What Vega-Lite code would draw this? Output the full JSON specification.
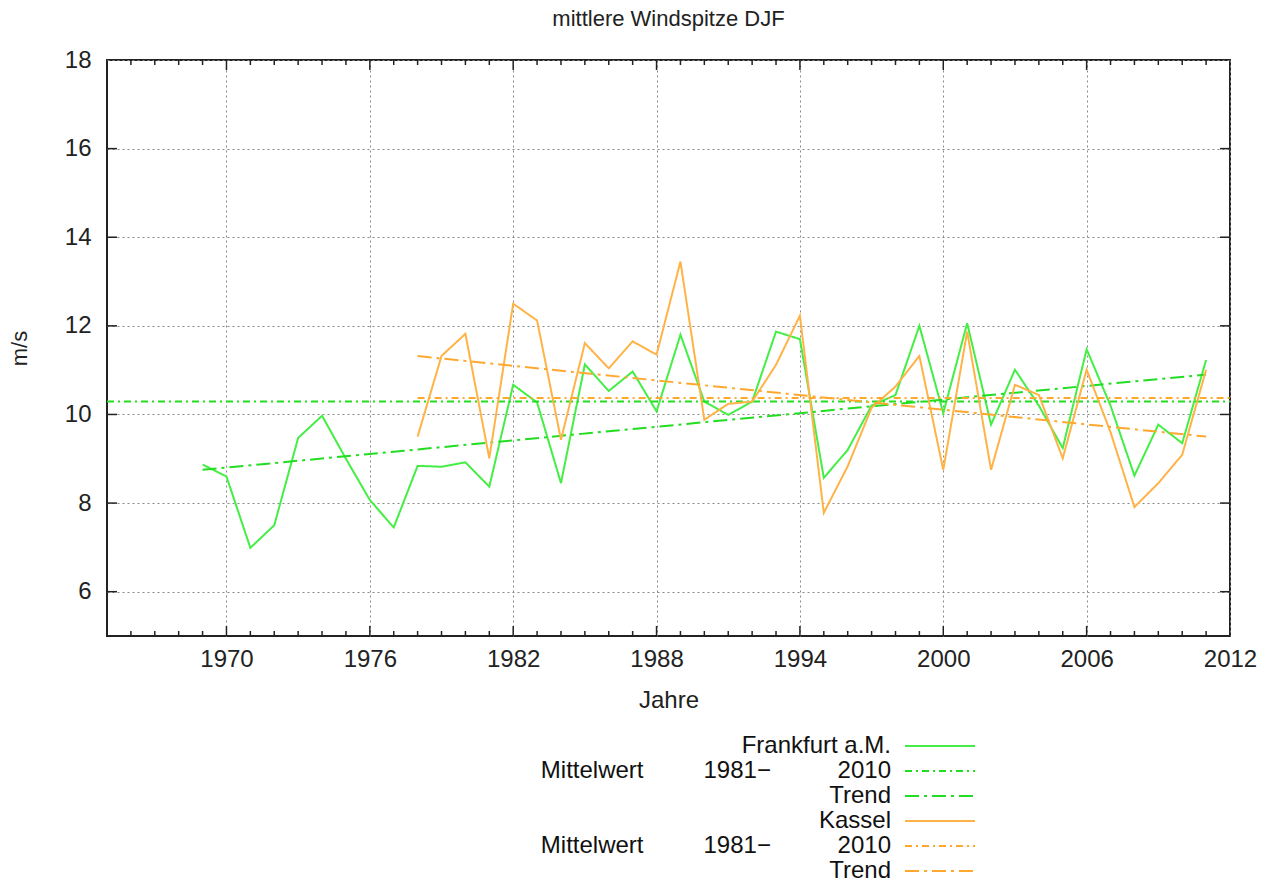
{
  "$schema": "https://vega.github.io/schema/vega-lite/v6.json",
  "autosize": "none",
  "padding": {"left": 107, "top": 60, "right": 39, "bottom": 246},
  "width": 1123,
  "height": 576,
  "background": "white",
  "title": {"text": "mittlere Windspitze DJF", "font": "Liberation Sans", "fontSize": 22, "fontWeight": "normal", "color": "#222", "anchor": "middle", "offset": 17},
  "config": {
    "view": {"stroke": "#222", "strokeWidth": 2},
    "font": "Liberation Sans",
    "legend": {
      "orient": "none", "legendX": 821, "legendY": 674, "direction": "vertical",
      "symbolType": "M-7,0H7", "symbolSize": 100, "symbolStrokeWidth": 2, "symbolFillColor": "transparent",
      "labelAlign": "right", "labelOffset": -61, "labelFontSize": 24, "labelFont": "Liberation Sans",
      "labelColor": "#111", "labelLimit": 600, "rowPadding": 1, "padding": 0
    }
  },
  "datasets": {
    "series": [
      {"series": "F", "year": 1969, "value": 8.87}, {"series": "F", "year": 1970, "value": 8.6}, {"series": "F", "year": 1971, "value": 6.99},
      {"series": "F", "year": 1972, "value": 7.5}, {"series": "F", "year": 1973, "value": 9.47}, {"series": "F", "year": 1974, "value": 9.97},
      {"series": "F", "year": 1975, "value": 9.0}, {"series": "F", "year": 1976, "value": 8.07}, {"series": "F", "year": 1977, "value": 7.45},
      {"series": "F", "year": 1978, "value": 8.84}, {"series": "F", "year": 1979, "value": 8.82}, {"series": "F", "year": 1980, "value": 8.92},
      {"series": "F", "year": 1981, "value": 8.37}, {"series": "F", "year": 1982, "value": 10.67}, {"series": "F", "year": 1983, "value": 10.27},
      {"series": "F", "year": 1984, "value": 8.45}, {"series": "F", "year": 1985, "value": 11.13}, {"series": "F", "year": 1986, "value": 10.53},
      {"series": "F", "year": 1987, "value": 10.97}, {"series": "F", "year": 1988, "value": 10.07}, {"series": "F", "year": 1989, "value": 11.8},
      {"series": "F", "year": 1990, "value": 10.29}, {"series": "F", "year": 1991, "value": 9.99}, {"series": "F", "year": 1992, "value": 10.29},
      {"series": "F", "year": 1993, "value": 11.87}, {"series": "F", "year": 1994, "value": 11.7}, {"series": "F", "year": 1995, "value": 8.57},
      {"series": "F", "year": 1996, "value": 9.2}, {"series": "F", "year": 1997, "value": 10.2}, {"series": "F", "year": 1998, "value": 10.44},
      {"series": "F", "year": 1999, "value": 12.0}, {"series": "F", "year": 2000, "value": 10.03}, {"series": "F", "year": 2001, "value": 12.06},
      {"series": "F", "year": 2002, "value": 9.77}, {"series": "F", "year": 2003, "value": 11.01}, {"series": "F", "year": 2004, "value": 10.2},
      {"series": "F", "year": 2005, "value": 9.24}, {"series": "F", "year": 2006, "value": 11.47}, {"series": "F", "year": 2007, "value": 10.2},
      {"series": "F", "year": 2008, "value": 8.62}, {"series": "F", "year": 2009, "value": 9.77}, {"series": "F", "year": 2010, "value": 9.35},
      {"series": "F", "year": 2011, "value": 11.23},
      {"series": "FM", "year": 1965, "value": 10.29}, {"series": "FM", "year": 2012, "value": 10.29},
      {"series": "FT", "year": 1969, "value": 8.75}, {"series": "FT", "year": 2011, "value": 10.9},
      {"series": "K", "year": 1978, "value": 9.5}, {"series": "K", "year": 1979, "value": 11.32}, {"series": "K", "year": 1980, "value": 11.82},
      {"series": "K", "year": 1981, "value": 9.01}, {"series": "K", "year": 1982, "value": 12.5}, {"series": "K", "year": 1983, "value": 12.12},
      {"series": "K", "year": 1984, "value": 9.43}, {"series": "K", "year": 1985, "value": 11.61}, {"series": "K", "year": 1986, "value": 11.04},
      {"series": "K", "year": 1987, "value": 11.65}, {"series": "K", "year": 1988, "value": 11.35}, {"series": "K", "year": 1989, "value": 13.45},
      {"series": "K", "year": 1990, "value": 9.88}, {"series": "K", "year": 1991, "value": 10.24}, {"series": "K", "year": 1992, "value": 10.29},
      {"series": "K", "year": 1993, "value": 11.12}, {"series": "K", "year": 1994, "value": 12.23}, {"series": "K", "year": 1995, "value": 7.78},
      {"series": "K", "year": 1996, "value": 8.83}, {"series": "K", "year": 1997, "value": 10.15}, {"series": "K", "year": 1998, "value": 10.63},
      {"series": "K", "year": 1999, "value": 11.32}, {"series": "K", "year": 2000, "value": 8.75}, {"series": "K", "year": 2001, "value": 11.87},
      {"series": "K", "year": 2002, "value": 8.75}, {"series": "K", "year": 2003, "value": 10.67}, {"series": "K", "year": 2004, "value": 10.44},
      {"series": "K", "year": 2005, "value": 9.01}, {"series": "K", "year": 2006, "value": 11.01}, {"series": "K", "year": 2007, "value": 9.6},
      {"series": "K", "year": 2008, "value": 7.91}, {"series": "K", "year": 2009, "value": 8.45}, {"series": "K", "year": 2010, "value": 9.09},
      {"series": "K", "year": 2011, "value": 11.01},
      {"series": "KM", "year": 1978, "value": 10.37}, {"series": "KM", "year": 2012, "value": 10.37},
      {"series": "KT", "year": 1978, "value": 11.32}, {"series": "KT", "year": 2011, "value": 9.5}
    ],
    "minorYears": [
      {"year": 1966}, {"year": 1967}, {"year": 1968}, {"year": 1969}, {"year": 1971}, {"year": 1972}, {"year": 1973}, {"year": 1974}, {"year": 1975},
      {"year": 1977}, {"year": 1978}, {"year": 1979}, {"year": 1980}, {"year": 1981}, {"year": 1983}, {"year": 1984}, {"year": 1985}, {"year": 1986}, {"year": 1987},
      {"year": 1989}, {"year": 1990}, {"year": 1991}, {"year": 1992}, {"year": 1993}, {"year": 1995}, {"year": 1996}, {"year": 1997}, {"year": 1998}, {"year": 1999},
      {"year": 2001}, {"year": 2002}, {"year": 2003}, {"year": 2004}, {"year": 2005}, {"year": 2007}, {"year": 2008}, {"year": 2009}, {"year": 2010}, {"year": 2011}
    ],
    "majorYears": [
      {"year": 1970}, {"year": 1976}, {"year": 1982}, {"year": 1988}, {"year": 1994}, {"year": 2000}, {"year": 2006}
    ],
    "yTicks": [
      {"v": 6}, {"v": 8}, {"v": 10}, {"v": 12}, {"v": 14}, {"v": 16}
    ]
  },
  "layer": [
    {
      "data": {"name": "series"},
      "mark": {"type": "line", "strokeWidth": 2, "clip": true},
      "encoding": {
        "x": {
          "field": "year", "type": "quantitative",
          "scale": {"domain": [1965, 2012], "nice": false, "zero": false},
          "axis": {
            "title": "Jahre", "values": [1970, 1976, 1982, 1988, 1994, 2000, 2006, 2012], "format": "d",
            "grid": true, "gridDash": [2, 3], "gridColor": "#888", "gridWidth": 1,
            "ticks": false, "domain": false, "labelFontSize": 24, "labelColor": "#222", "labelPadding": 11,
            "labelFlush": false, "titleFontSize": 24, "titleFontWeight": "normal", "titleColor": "#222", "titlePadding": 17
          }
        },
        "y": {
          "field": "value", "type": "quantitative",
          "scale": {"domain": [5, 18], "nice": false, "zero": false},
          "axis": {
            "title": "m/s", "values": [6, 8, 10, 12, 14, 16, 18],
            "grid": true, "gridDash": [2, 3], "gridColor": "#888", "gridWidth": 1,
            "ticks": false, "domain": false, "labelFontSize": 24, "labelColor": "#222", "labelPadding": 16,
            "labelFlush": false, "titleFontSize": 22, "titleFontWeight": "normal", "titleColor": "#222", "titlePadding": 33
          }
        },
        "color": {
          "field": "series", "type": "nominal",
          "scale": {"domain": ["F", "FM", "FT", "K", "KM", "KT"], "range": ["#44ee44", "#22dd22", "#22dd22", "#ffb347", "#ffa82e", "#ffa82e"]},
          "legend": {"title": null, "labelExpr": "datum.label == 'F' ? 'Frankfurt a.M.' : datum.label == 'K' ? 'Kassel' : (datum.label == 'FT' || datum.label == 'KT') ? 'Trend' : 'Mittelwert\u00a0\u00a0\u00a0\u00a0\u00a0\u00a0\u00a0\u00a0\u00a01981\u2212\u00a0\u00a0\u00a0\u00a0\u00a0\u00a0\u00a0\u00a0\u00a0\u00a02010'"}
        },
        "strokeDash": {
          "field": "series", "type": "nominal",
          "scale": {"domain": ["F", "FM", "FT", "K", "KM", "KT"], "range": [[1, 0], [7, 4, 2, 4], [14, 5, 3, 5], [1, 0], [7, 4, 2, 4], [14, 5, 3, 5]]},
          "legend": {"title": null, "labelExpr": "datum.label == 'F' ? 'Frankfurt a.M.' : datum.label == 'K' ? 'Kassel' : (datum.label == 'FT' || datum.label == 'KT') ? 'Trend' : 'Mittelwert\u00a0\u00a0\u00a0\u00a0\u00a0\u00a0\u00a0\u00a0\u00a01981\u2212\u00a0\u00a0\u00a0\u00a0\u00a0\u00a0\u00a0\u00a0\u00a0\u00a02010'"}
        }
      }
    },
    {
      "data": {"name": "minorYears"},
      "encoding": {"x": {"field": "year", "type": "quantitative"}},
      "layer": [
        {"mark": {"type": "tick", "orient": "vertical", "size": 10, "thickness": 1.5, "color": "#222", "clip": true, "opacity": 1}, "encoding": {"y": {"datum": 5}}},
        {"mark": {"type": "tick", "orient": "vertical", "size": 10, "thickness": 1.5, "color": "#222", "clip": true, "opacity": 1}, "encoding": {"y": {"datum": 18}}}
      ]
    },
    {
      "data": {"name": "majorYears"},
      "encoding": {"x": {"field": "year", "type": "quantitative"}},
      "layer": [
        {"mark": {"type": "tick", "orient": "vertical", "size": 20, "thickness": 1.5, "color": "#222", "clip": true, "opacity": 1}, "encoding": {"y": {"datum": 5}}},
        {"mark": {"type": "tick", "orient": "vertical", "size": 20, "thickness": 1.5, "color": "#222", "clip": true, "opacity": 1}, "encoding": {"y": {"datum": 18}}}
      ]
    },
    {
      "data": {"name": "yTicks"},
      "encoding": {"y": {"field": "v", "type": "quantitative"}},
      "layer": [
        {"mark": {"type": "tick", "orient": "horizontal", "size": 20, "thickness": 1.5, "color": "#222", "clip": true, "opacity": 1}, "encoding": {"x": {"datum": 1965}}},
        {"mark": {"type": "tick", "orient": "horizontal", "size": 20, "thickness": 1.5, "color": "#222", "clip": true, "opacity": 1}, "encoding": {"x": {"datum": 2012}}}
      ]
    }
  ]
}
